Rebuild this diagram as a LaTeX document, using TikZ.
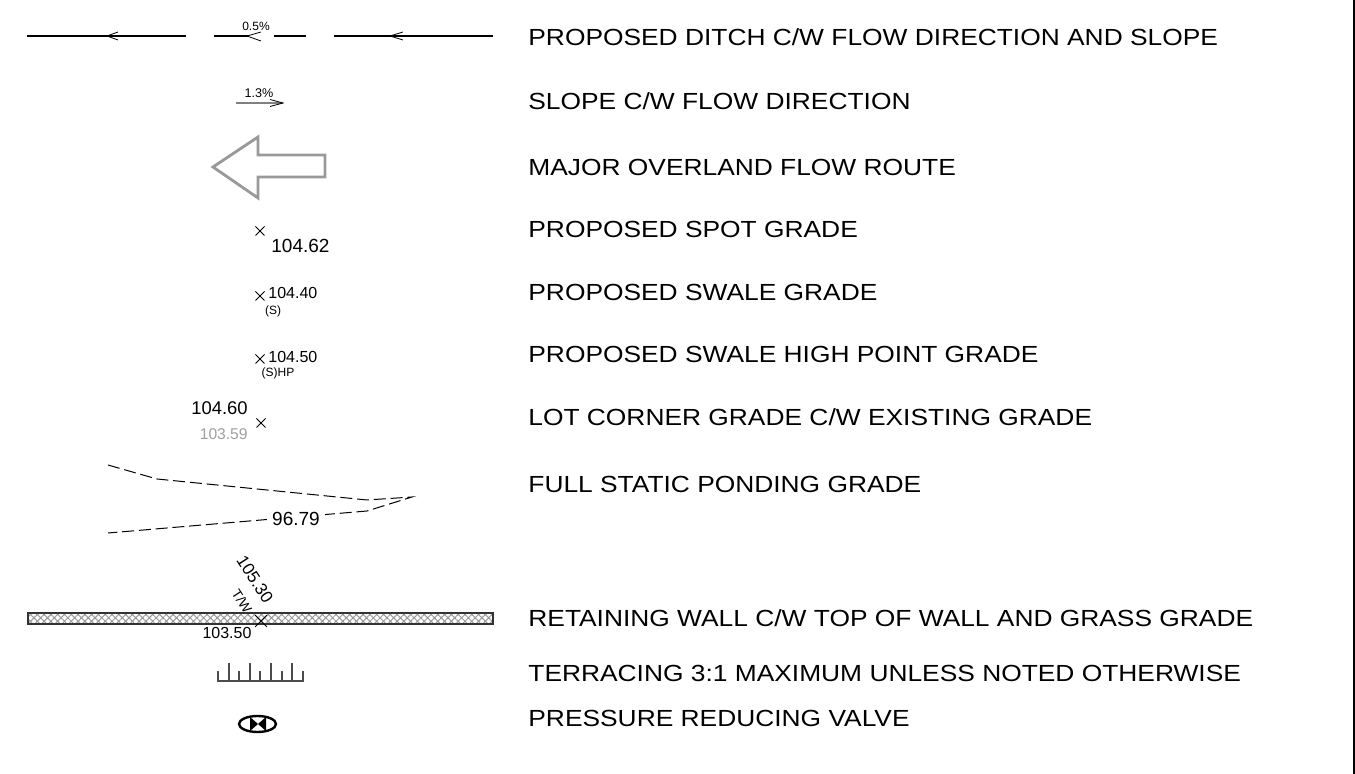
\documentclass[tikz,border=0pt]{standalone}
\usepackage{fontspec}
\setmainfont{Liberation Sans}
\newfontfamily\cadfont[FakeStretch=1.13]{Liberation Sans}
\usetikzlibrary{positioning,patterns.meta}

\tikzset{
  lbl/.style={anchor=base west,inner sep=0pt,font=\cadfont\fontsize{11.66}{14}\selectfont},
  num/.style={inner sep=0pt,font=\fontsize{#1}{#1}\selectfont},
  xmk/.pic={\draw [black,line width=0.4pt] (-4.5,-4.5) -- (4.5,4.5) (-4.5,4.5) -- (4.5,-4.5);},
  ditch/.style={black,line width=1.1pt},
  pond/.style={black,line width=0.5pt,dash pattern=on 6pt off 2.4pt}
}

\begin{document}
\begin{tikzpicture}[x=0.5pt,y=-0.5pt]
\useasboundingbox (0,0) rectangle (1355,774);
\draw [black,line width=1pt] (1354,0) -- (1354,774);
\draw [ditch] (27,36) -- (186,36) (214,36) -- (248,36) (274,36) -- (306,36) (334,36) -- (493,36);
\draw [black,line width=0.4pt] (118,32) -- (107,36) -- (118,40) (261,32) -- (247,36) -- (261,41) (403,32) -- (390,36) -- (403,40);
\node [num=6] (ditchslope) at (256,26) {0.5\%};
\draw [gray,line width=0.6pt] (236,103) -- (283,103);
\draw [black,line width=0.4pt] (270,99.5) -- (283,103) -- (270,106.5);
\node [num=6.3] (slope) at (259,93) {1.3\%};
\draw [gray!80,line width=1.4pt,line join=miter] (213,167) -- (258,137) -- (258,155) -- (325,155) -- (325,177) -- (258,177) -- (258,198) -- cycle;
\pic at (260,231) {xmk};
\node [num=9.5,anchor=base west] (spot) at (271,253) {104.62};
\pic at (260,296) {xmk};
\node [num=8,anchor=base west] (swale) at (268,299) {104.40};
\node [num=6] (swaletag) at (273,311) {(S)};
\pic at (260,359) {xmk};
\node [num=8,anchor=base west] (swalehp) at (268,362.5) {104.50};
\node [num=6] (swalehptag) at (278,373) {(S)HP};
\node [num=9.2,anchor=base east] (lotnew) at (248,415) {104.60};
\node [num=7.8,anchor=base east,text=gray!75] (lotold) at (248,440) {103.59};
\pic at (261,423) {xmk};
\draw [pond] (108,465) -- (157,479) -- (367,500) -- (412,497) -- (367,511) -- (108,533);
\node [num=9.5,fill=white,inner sep=2.5pt] (pondgrade) at (296,519) {96.79};
\draw [black!80,line width=0.6pt,pattern={Hatch[angle=45,distance=2.4pt,line width=0.5pt]},pattern color=gray!80] (28,613) rectangle (493,624);
\pic [scale=1.3] at (261,621) {xmk};
\node [num=8.5,rotate=-57] (topwall) at (255,579) {105.30};
\node [num=6.8,rotate=-57] (topwalltag) at (242,601) {T/W};
\node [num=8] (grass) at (227,633) {103.50};
\draw [black!70,line width=0.6pt] (217,681) -- (304,681);
\foreach \x/\h in {218/10,229/18,239/10,250/18,260/10,271/18,282/10,292/18,303/10}
  \draw [black!70,line width=0.6pt] (\x,681) -- (\x,681-\h);
\draw [black,line width=1.2pt] (257.5,724) ellipse [x radius=9.25pt,y radius=4pt];
\fill [black] (250,717) -- (250,731) -- (258,724) -- cycle (266,717) -- (266,731) -- (258,724) -- cycle;
\node [lbl] (ditchlbl) at (528,46) {PROPOSED DITCH C/W FLOW DIRECTION AND SLOPE};
\node [lbl] (slopelbl) at (528,110) {SLOPE C/W FLOW DIRECTION};
\node [lbl] (overlandlbl) at (528,175.5) {MAJOR OVERLAND FLOW ROUTE};
\node [lbl] (spotlbl) at (528,237.5) {PROPOSED SPOT GRADE};
\node [lbl] (swalelbl) at (528,300.5) {PROPOSED SWALE GRADE};
\node [lbl] (swalehplbl) at (528,362.5) {PROPOSED SWALE HIGH POINT GRADE};
\node [lbl] (lotlbl) at (528,425.5) {LOT CORNER GRADE C/W EXISTING GRADE};
\node [lbl] (pondlbl) at (528,492.5) {FULL STATIC PONDING GRADE};
\node [lbl] (walllbl) at (528,627) {RETAINING WALL C/W TOP OF WALL AND GRASS GRADE};
\node [lbl] (terracelbl) at (528,681.5) {TERRACING 3:1 MAXIMUM UNLESS NOTED OTHERWISE};
\node [lbl] (valvelbl) at (528,726.5) {PRESSURE REDUCING VALVE};
\end{tikzpicture}
\end{document}
